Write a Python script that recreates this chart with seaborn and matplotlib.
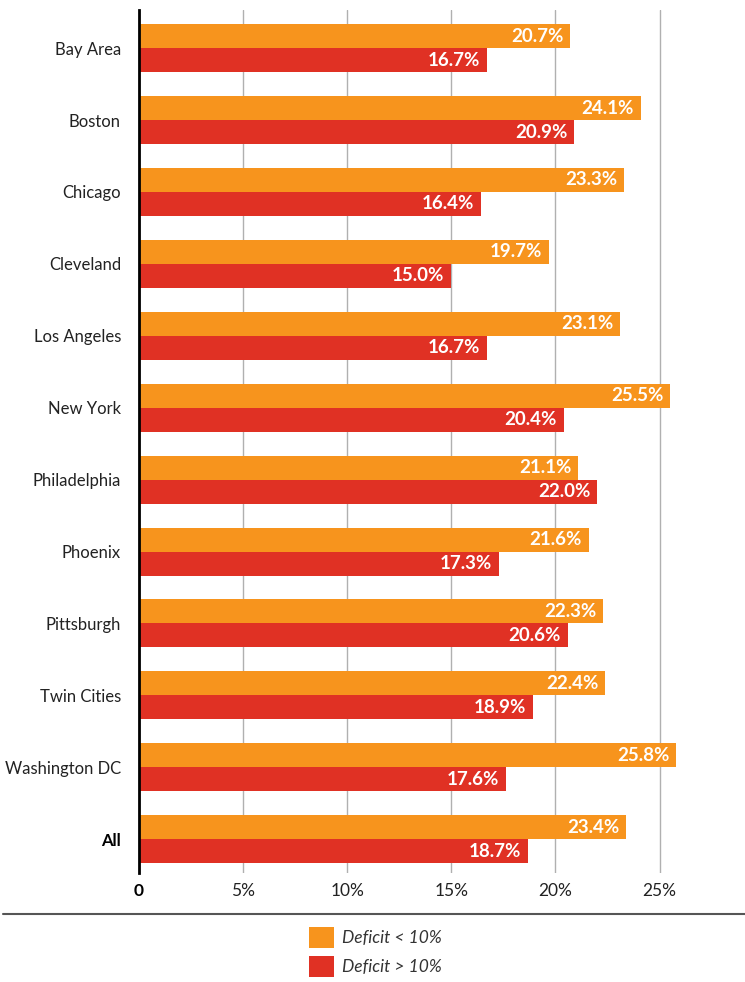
import matplotlib
matplotlib.use("Agg")
import matplotlib.pyplot as plt
from matplotlib.patches import Patch
from matplotlib.lines import Line2D
import seaborn as sns
import pandas as pd

cities = ["Bay Area", "Boston", "Chicago", "Cleveland", "Los Angeles", "New York",
          "Philadelphia", "Phoenix", "Pittsburgh", "Twin Cities", "Washington DC", "All"]
deficit_lt10 = [20.7, 24.1, 23.3, 19.7, 23.1, 25.5, 21.1, 21.6, 22.3, 22.4, 25.8, 23.4]
deficit_gt10 = [16.7, 20.9, 16.4, 15.0, 16.7, 20.4, 22.0, 17.3, 20.6, 18.9, 17.6, 18.7]
series = ["Deficit < 10%", "Deficit > 10%"]
xticks = [0, 5, 10, 15, 20, 25]
xticklabels = ["0", "5%", "10%", "15%", "20%", "25%"]

colors = {"Deficit < 10%": "#F7941D", "Deficit > 10%": "#E03124"}

df = pd.DataFrame({
    "city": cities * 2,
    "value": deficit_lt10 + deficit_gt10,
    "series": [series[0]] * len(cities) + [series[1]] * len(cities),
})

sns.set_style("white")
plt.rcParams['font.family'] = ['Lato', 'DejaVu Sans']

fig = plt.figure(figsize=(7.45, 9.82), dpi=100)
ax = fig.add_axes([139 / 745, 109 / 982, (745 - 139) / 745, (982 - 10 - 109) / 982])

sns.barplot(data=df, y="city", x="value", hue="series", order=cities,
            hue_order=series, palette=colors, orient="h", width=0.667,
            dodge=True, gap=0, saturation=1, legend=False, ax=ax, errorbar=None,
            linewidth=0)

for cont in ax.containers:
    for bar in cont:
        w = bar.get_width()
        ax.text(w - 0.33, bar.get_y() + bar.get_height() / 2, f"{w:.1f}%",
                ha="right", va="center", color="white", fontweight="bold",
                fontsize=13.5)

ax.set_xlim(0, 29.1)
ax.set_ylim(len(cities) - 0.53, -0.53)
ax.set_xticks(xticks)
ax.set_xticklabels(xticklabels, fontsize=12.5, color="#222222")
ax.get_xticklabels()[0].set_fontweight("bold")
ax.get_xticklabels()[0].set_color("black")
ax.tick_params(axis="y", length=0, pad=13, labelsize=12)
ax.tick_params(axis="x", length=0, pad=7)
for lbl in ax.get_yticklabels():
    lbl.set_color("#222222")
    if lbl.get_text() == "All":
        lbl.set_fontweight("bold")
        lbl.set_color("black")
ax.set_xlabel("")
ax.set_ylabel("")
ax.xaxis.grid(True, color="#B0B0B0", linewidth=1)
ax.set_axisbelow(True)
for s in ["top", "right", "bottom"]:
    ax.spines[s].set_visible(False)
ax.spines["left"].set_color("black")
ax.spines["left"].set_linewidth(2)

fig.add_artist(Line2D([3 / 745, 1.0], [1 - 914 / 982, 1 - 914 / 982],
                      color="#555555", linewidth=1.5))

handles = [Patch(facecolor=colors[s], edgecolor="none") for s in series]
fig.legend(handles, series, loc="upper left",
           bbox_to_anchor=(309 / 745, 1 - 927 / 982), frameon=False,
           prop={"style": "italic", "size": 12.5}, labelcolor="#333333",
           handlelength=1.45, handleheight=1.45, labelspacing=0.5,
           handletextpad=0.45, borderaxespad=0, borderpad=0)

fig.savefig("out.png", dpi=100)
